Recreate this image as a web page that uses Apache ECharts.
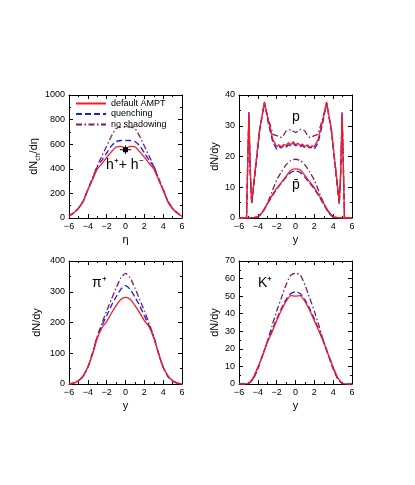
<!DOCTYPE html>
<html>
<head>
<meta charset="utf-8">
<title>AMPT rapidity distributions</title>
<script src="https://cdn.jsdelivr.net/npm/echarts@6/dist/echarts.min.js"></script>
<style>
  html, body { margin: 0; padding: 0; background: #fff; }
  #chart { width: 415px; height: 485px; }
</style>
</head>
<body>
<div id="chart"></div>
<script>
// series names and colours
const seriesNames = ['default AMPT', 'quenching', 'no shadowing'];

// x grid for the smooth curves
const xGrid = [-6, -5.5, -5, -4.5, -4, -3.5, -3, -2.5, -2, -1.5, -1, -0.5, 0,
  0.5, 1, 1.5, 2, 2.5, 3, 3.5, 4, 4.5, 5, 5.5, 6];

// charged hadrons dN/deta
const hDefault = [14, 40, 76, 132, 226, 312, 397, 442, 492, 538, 577, 583, 568,
  583, 579, 540, 495, 445, 400, 313, 226, 131, 75, 39, 13];
const hQuench = [15, 42, 78, 136, 231, 318, 415, 470, 528, 586, 622, 630, 631,
  630, 622, 588, 530, 472, 418, 320, 232, 135, 78, 42, 15];
const hNoShadow = [15, 42, 80, 138, 233, 325, 425, 505, 585, 665, 728, 738, 739,
  738, 728, 665, 585, 505, 425, 325, 233, 138, 80, 42, 15];
// data point at eta = 0 : [x, y, xerr, yerr]
const hData = [[0, 555, 0.6, 35]];

// protons dN/dy (needs a finer grid near the spikes)
const xProton = [-6, -5.5, -5.2, -5.1, -4.95, -4.8, -4.65, -4.3, -3.8, -3.3, -2.9, -2.4,
  -2, -1.75, -1.5, -1.25, -1, -0.75, -0.5, -0.25, 0, 0.25, 0.5, 0.75, 1, 1.25, 1.5, 1.75,
  2, 2.4, 2.9, 3.3, 3.8, 4.3, 4.65, 4.8, 4.95, 5.1, 5.2, 5.5, 6];
const pDefault = [0, 0, 0, 14, 34, 15, 5, 15, 29, 37.8, 32, 25.5,
  23.2, 23.8, 23, 24, 23.5, 24.5, 23.8, 24.8, 23.8, 24.3, 23.6, 24, 23.2, 23.8, 23, 23.5,
  23.2, 25.5, 32, 37.8, 29, 15, 5, 15, 34, 14, 0, 0, 0];
const pQuench = [0, 0, 0, 15, 34.5, 14, 4.5, 14, 28.5, 37.5, 31, 24.5,
  22.4, 23.2, 22.8, 23.6, 23, 23.8, 23.4, 24.2, 23.5, 23.8, 23.2, 23.6, 22.8, 23.4, 22.8, 23,
  22.4, 24.5, 31, 37.5, 28.5, 14, 4.5, 14, 34.5, 15, 0, 0, 0];
const pNoShadow = [0, 0, 0, 14, 33, 15, 5, 15, 29, 37, 32.5, 27.2,
  26.8, 26.4, 26.2, 27, 28.3, 28.6, 28.8, 28.2, 27.8, 28.2, 28.8, 28.6, 28.3, 27, 26.2, 26.4,
  26.8, 27.2, 32.5, 37, 29, 15, 5, 15, 33, 14, 0, 0, 0];

// antiprotons dN/dy
const pbarDefault = [0, 0, 0, 0.1, 0.4, 2, 4.6, 7.3, 9.6, 11.6, 13.5, 15.5, 16,
  15.6, 13.8, 11.8, 9.8, 7.4, 4.8, 2.2, 0.5, 0.1, 0, 0, 0];
const pbarQuench = [0, 0, 0, 0.1, 0.3, 1.8, 4.4, 7, 9.4, 11.4, 13.2, 14.8, 15.3,
  14.8, 13.2, 11.4, 9.4, 7, 4.4, 1.8, 0.3, 0.1, 0, 0, 0];
const pbarNoShadow = [0, 0, 0, 0.1, 0.4, 2, 4.8, 8.5, 12.3, 15, 17.3, 18.7, 19.1,
  18.7, 17.3, 15, 12.3, 8.5, 4.8, 2, 0.4, 0.1, 0, 0, 0];

// pi+ dN/dy
const piDefault = [0, 3, 11, 27, 55, 97, 148, 183, 203, 230, 255, 275, 282,
  276, 256, 232, 206, 186, 150, 100, 56, 27, 11, 3, 0];
const piQuench = [0, 3, 10, 25, 54, 100, 152, 190, 222, 255, 283, 308, 320,
  308, 283, 255, 222, 190, 152, 100, 54, 25, 10, 3, 0];
const piNoShadow = [0, 3, 10, 25, 54, 102, 155, 198, 238, 275, 312, 345, 360,
  345, 312, 275, 238, 198, 155, 102, 54, 25, 10, 3, 0];

// K+ dN/dy
const kDefault = [0, 0, 0.4, 3.5, 9.5, 16, 23.5, 29.5, 36, 42, 47, 50.3, 50,
  50.3, 47, 42, 36, 30, 23.5, 16.5, 9.5, 3.5, 0.4, 0, 0];
const kQuench = [0, 0, 0.2, 2.8, 8.5, 16, 24, 30.5, 37, 43, 48, 51.5, 52.4,
  51.5, 48, 43, 37, 30.5, 24, 16, 8.5, 2.8, 0.2, 0, 0];
const kNoShadow = [0, 0, 0.2, 3, 9.4, 16.5, 24, 33, 41.5, 49, 56.5, 62, 63,
  62, 56.5, 49, 41.5, 33, 24, 16.5, 9.4, 3, 0.2, 0, 0];

const colors = ['#ff1a1a', '#1a1aff', '#7a1f5c'];
const dashes = ['solid', [6, 3], [6, 2.5, 1.5, 2.5]];
const font = 'Liberation Sans, Arial, Helvetica, sans-serif';

function zip(xs, ys) {
  return xs.map((x, i) => [x, ys[i]]);
}

function minus(v) {
  return String(v).replace('-', '\u2212');
}

// panel boxes
const panels = [
  { left: 69, top: 95, ymax: 1000, yint: 200, yname: '{a|dN}{b|ch}{a|/d\u03b7}', xname: '\u03b7' },
  { left: 239, top: 95, ymax: 40, yint: 10, yname: 'dN/dy', xname: 'y' },
  { left: 69, top: 261, ymax: 400, yint: 100, yname: 'dN/dy', xname: 'y' },
  { left: 239, top: 261, ymax: 70, yint: 10, yname: 'dN/dy', xname: 'y' }
];

const grid = [], xAxis = [], yAxis = [];
panels.forEach((p, i) => {
  grid.push({ left: p.left, top: p.top, width: 113, height: 123, containLabel: false });
  const tick = { show: true, inside: true, length: 4, lineStyle: { color: '#000', width: 1 } };
  const minor = { show: true, splitNumber: 2, length: 2, lineStyle: { color: '#000', width: 1 } };
  const line = { show: true, onZero: false, lineStyle: { color: '#000', width: 1 } };
  const label = { fontSize: 9, color: '#000', fontFamily: font, margin: 4, formatter: minus };
  // bottom and top x axes
  xAxis.push({
    gridIndex: i, type: 'value', min: -6, max: 6, interval: 2, position: 'bottom',
    axisLine: line, axisTick: tick, minorTick: minor, axisLabel: label, splitLine: { show: false },
    name: p.xname, nameLocation: 'middle', nameGap: 16,
    nameTextStyle: { fontSize: 11, color: '#000', fontFamily: font }
  });
  xAxis.push({
    gridIndex: i, type: 'value', min: -6, max: 6, interval: 2, position: 'top',
    axisLine: line, axisTick: tick, minorTick: minor, axisLabel: { show: false }, splitLine: { show: false }
  });
  // left and right y axes
  yAxis.push({
    gridIndex: i, type: 'value', min: 0, max: p.ymax, interval: p.yint, position: 'left',
    axisLine: line, axisTick: tick, minorTick: minor, axisLabel: label, splitLine: { show: false },
    name: p.yname, nameLocation: 'middle', nameGap: i % 2 === 0 ? 27 : 19, nameRotate: 90,
    nameTextStyle: {
      fontSize: 11, color: '#000', fontFamily: font,
      rich: {
        a: { fontSize: 11, fontFamily: font, color: '#000', lineHeight: 14 },
        b: { fontSize: 7, fontFamily: font, color: '#000', verticalAlign: 'bottom', lineHeight: 9 }
      }
    }
  });
  yAxis.push({
    gridIndex: i, type: 'value', min: 0, max: p.ymax, interval: p.yint, position: 'right',
    axisLine: line, axisTick: tick, minorTick: minor, axisLabel: { show: false }, splitLine: { show: false }
  });
});

function lineSeries(panel, k, xs, ys, smooth) {
  return {
    name: seriesNames[k], type: 'line', xAxisIndex: panel * 2, yAxisIndex: panel * 2,
    data: zip(xs, ys), showSymbol: false, symbol: 'none', smooth: smooth,
    lineStyle: { color: colors[k], width: 1.3, type: dashes[k] },
    itemStyle: { color: colors[k] }, z: 3 - k
  };
}

const series = [
  lineSeries(0, 0, xGrid, hDefault, 0.2),
  lineSeries(0, 1, xGrid, hQuench, 0.2),
  lineSeries(0, 2, xGrid, hNoShadow, 0.2),
  lineSeries(1, 0, xProton, pDefault, false),
  lineSeries(1, 1, xProton, pQuench, false),
  lineSeries(1, 2, xProton, pNoShadow, false),
  lineSeries(1, 0, xGrid, pbarDefault, 0.2),
  lineSeries(1, 1, xGrid, pbarQuench, 0.2),
  lineSeries(1, 2, xGrid, pbarNoShadow, 0.2),
  lineSeries(2, 0, xGrid, piDefault, 0.2),
  lineSeries(2, 1, xGrid, piQuench, 0.2),
  lineSeries(2, 2, xGrid, piNoShadow, 0.2),
  lineSeries(3, 0, xGrid, kDefault, 0.2),
  lineSeries(3, 1, xGrid, kQuench, 0.2),
  lineSeries(3, 2, xGrid, kNoShadow, 0.2),
  {
    // measured point with error bars
    type: 'custom', xAxisIndex: 0, yAxisIndex: 0, data: hData, z: 5,
    renderItem: function (params, api) {
      const x = api.value(0), y = api.value(1), ex = api.value(2), ey = api.value(3);
      const c = api.coord([x, y]);
      const l = api.coord([x - ex, y]), r = api.coord([x + ex, y]);
      const t = api.coord([x, y + ey]), b = api.coord([x, y - ey]);
      const st = { stroke: '#000', lineWidth: 1 };
      return {
        type: 'group',
        children: [
          { type: 'line', shape: { x1: l[0], y1: l[1], x2: r[0], y2: r[1] }, style: st },
          { type: 'line', shape: { x1: t[0], y1: t[1], x2: b[0], y2: b[1] }, style: st },
          { type: 'rect', shape: { x: c[0] - 2.5, y: c[1] - 2.5, width: 5, height: 5 }, style: { fill: '#000' } }
        ]
      };
    }
  }
];

const chart = echarts.init(document.getElementById('chart'), null, { renderer: 'canvas' });
chart.setOption({
  backgroundColor: '#fff',
  animation: false,
  grid: grid,
  xAxis: xAxis,
  yAxis: yAxis,
  legend: {
    data: seriesNames, orient: 'vertical', left: 70, top: 94,
    itemWidth: 30, itemHeight: 9, itemGap: 1.5,
    itemStyle: { opacity: 0 },
    textStyle: { fontSize: 9, color: '#000', fontFamily: font }
  },
  graphic: [
    { type: 'text', left: 106, top: 158, style: { text: 'h\u207a+ h\u207b', fontSize: 14, fill: '#000', fontFamily: font } },
    { type: 'text', left: 292, top: 110, style: { text: 'p', fontSize: 14, fill: '#000', fontFamily: font } },
    { type: 'text', left: 292, top: 178, style: { text: 'p\u0304', fontSize: 14, fill: '#000', fontFamily: font } },
    { type: 'text', left: 92, top: 276, style: { text: '\u03c0\u207a', fontSize: 14, fill: '#000', fontFamily: font } },
    { type: 'text', left: 258, top: 276, style: { text: 'K\u207a', fontSize: 14, fill: '#000', fontFamily: font } }
  ],
  series: series
});
</script>
</body>
</html>
